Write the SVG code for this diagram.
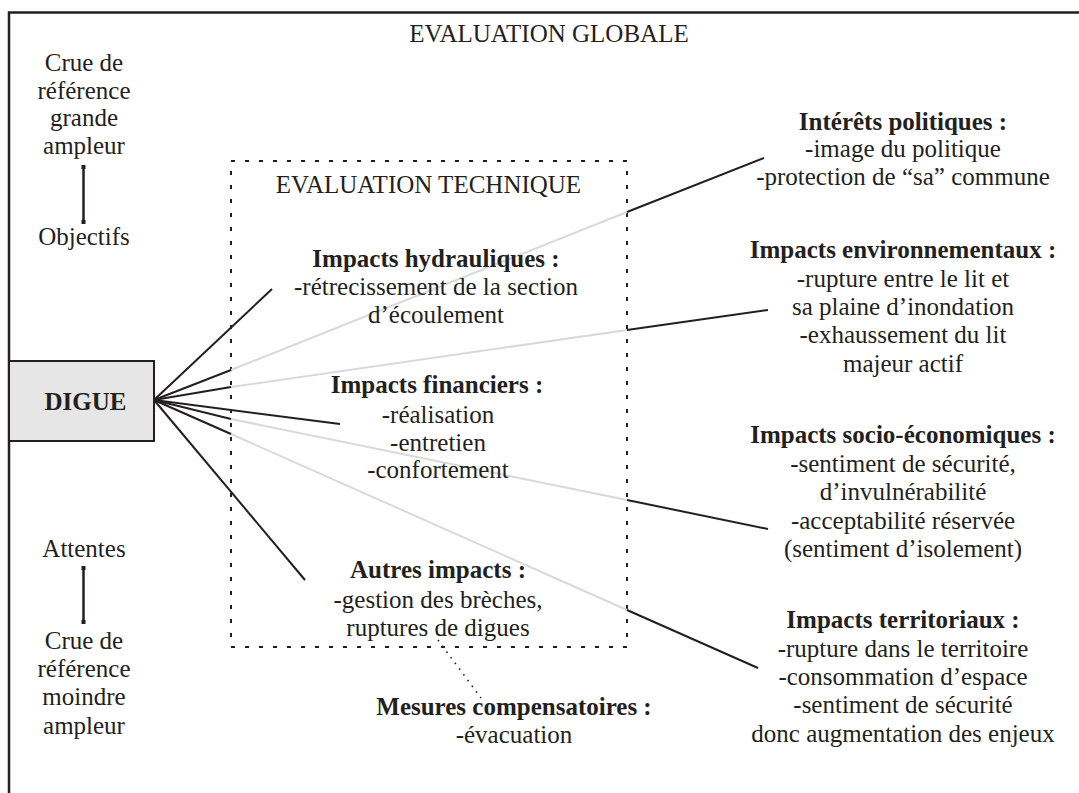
<svg xmlns="http://www.w3.org/2000/svg" width="1079" height="793" viewBox="0 0 1079 793">
<style>
text{font-family:"Liberation Serif","Times New Roman",serif;font-size:25px;fill:#231f20;text-anchor:middle}
.b{font-weight:bold}
.blk{stroke:#231f20;stroke-width:2;fill:none}
.gry{stroke:#d9d9d9;stroke-width:2;fill:none}
.dash{stroke:#231f20;stroke-width:2;fill:none;stroke-dasharray:4 10}
.dot{stroke:#231f20;stroke-width:1.6;fill:none;stroke-dasharray:1.6 5.5}
</style>
<g id="frame">
<path d="M9,793 V12.5 H1079" fill="none" stroke="#231f20" stroke-width="2.5"/>
</g>
<g id="evaluation-technique-box">
<rect x="231" y="161" width="396" height="486" class="dash"/>
<text x="428.5" y="193">EVALUATION TECHNIQUE</text>
</g>
<g id="connectors">
<line x1="154" y1="400" x2="272" y2="289" class="blk"/>
<line x1="231" y1="370" x2="627" y2="212" class="gry"/>
<line x1="154" y1="400" x2="231" y2="370" class="blk"/>
<line x1="627" y1="212" x2="764" y2="158" class="blk"/>
<line x1="231" y1="387" x2="627" y2="330" class="gry"/>
<line x1="154" y1="400" x2="231" y2="387" class="blk"/>
<line x1="627" y1="330" x2="768" y2="310" class="blk"/>
<line x1="154" y1="400" x2="340" y2="424" class="blk"/>
<line x1="231" y1="419" x2="627" y2="500" class="gry"/>
<line x1="154" y1="400" x2="231" y2="419" class="blk"/>
<line x1="627" y1="500" x2="768" y2="529" class="blk"/>
<line x1="231" y1="434" x2="627" y2="610" class="gry"/>
<line x1="154" y1="400" x2="231" y2="434" class="blk"/>
<line x1="627" y1="610" x2="758" y2="668" class="blk"/>
<line x1="154" y1="400" x2="305" y2="580" class="blk"/>
<line x1="438" y1="640" x2="481" y2="698" class="dot"/>
<g fill="#231f20">
<line x1="83.5" y1="167" x2="83.5" y2="222" stroke="#231f20" stroke-width="2.5"/>
<rect x="81.5" y="165" width="4" height="4"/>
<rect x="81.5" y="220" width="4" height="4"/>
<line x1="83.5" y1="568" x2="83.5" y2="622" stroke="#231f20" stroke-width="2.5"/>
<rect x="81.5" y="566" width="4" height="4"/>
<rect x="81.5" y="620" width="4" height="4"/>
</g>
</g>
<g id="title"><text x="549" y="42">EVALUATION GLOBALE</text></g>
<g id="crue-grande">
<text x="84" y="71">Crue de</text>
<text x="84" y="99">référence</text>
<text x="84" y="126">grande</text>
<text x="84" y="154">ampleur</text>
</g>
<g id="objectifs"><text x="84" y="245">Objectifs</text></g>
<g id="attentes"><text x="84" y="557">Attentes</text></g>
<g id="crue-moindre">
<text x="84" y="649">Crue de</text>
<text x="84" y="677">référence</text>
<text x="84" y="705">moindre</text>
<text x="84" y="734">ampleur</text>
</g>
<g id="digue">
<rect x="9" y="361" width="145" height="80" fill="#e6e6e6" stroke="#231f20" stroke-width="2"/>
<text x="85.5" y="410" class="b">DIGUE</text>
</g>
<g id="impacts-hydrauliques">
<text x="436" y="267" class="b">Impacts hydrauliques :</text>
<text x="436" y="295">-rétrecissement de la section</text>
<text x="436" y="323">d’écoulement</text>
</g>
<g id="impacts-financiers">
<text x="437" y="393" class="b">Impacts financiers :</text>
<text x="438" y="423">-réalisation</text>
<text x="438" y="451">-entretien</text>
<text x="438" y="478">-confortement</text>
</g>
<g id="autres-impacts">
<text x="438" y="578" class="b">Autres impacts :</text>
<text x="438" y="608">-gestion des brèches,</text>
<text x="438" y="636">ruptures de digues</text>
</g>
<g id="mesures-compensatoires">
<text x="514" y="715" class="b">Mesures compensatoires :</text>
<text x="514" y="743">-évacuation</text>
</g>
<g id="interets-politiques">
<text x="903" y="130" class="b">Intérêts politiques :</text>
<text x="903" y="157">-image du politique</text>
<text x="903" y="185">-protection de “sa” commune</text>
</g>
<g id="impacts-environnementaux">
<text x="903" y="258" class="b">Impacts environnementaux :</text>
<text x="903" y="287">-rupture entre le lit et</text>
<text x="903" y="315">sa plaine d’inondation</text>
<text x="903" y="343">-exhaussement du lit</text>
<text x="903" y="372">majeur actif</text>
</g>
<g id="impacts-socio-economiques">
<text x="903" y="443" class="b">Impacts socio-économiques :</text>
<text x="903" y="472">-sentiment de sécurité,</text>
<text x="903" y="500">d’invulnérabilité</text>
<text x="903" y="529">-acceptabilité réservée</text>
<text x="903" y="557">(sentiment d’isolement)</text>
</g>
<g id="impacts-territoriaux">
<text x="903" y="628" class="b">Impacts territoriaux :</text>
<text x="903" y="657">-rupture dans le territoire</text>
<text x="903" y="685">-consommation d’espace</text>
<text x="903" y="713">-sentiment de sécurité</text>
<text x="903" y="742">donc augmentation des enjeux</text>
</g>
</svg>
